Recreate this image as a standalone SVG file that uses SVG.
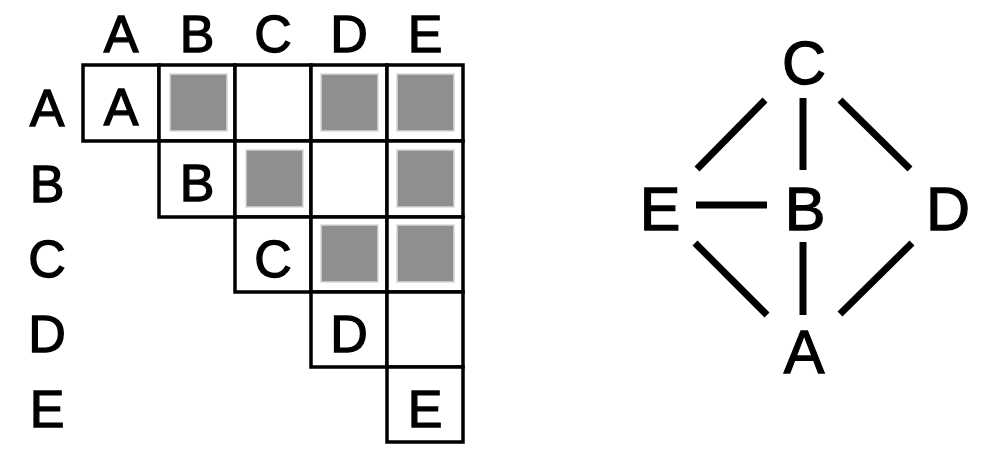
<svg xmlns="http://www.w3.org/2000/svg" width="985" height="449" viewBox="0 0 985 449">
<style>
.lbl{font-family:"Liberation Sans",Arial,sans-serif;font-size:52px;fill:#000;stroke:#000;stroke-width:1.3;text-anchor:middle}
.big{font-family:"Liberation Sans",Arial,sans-serif;font-size:61px;fill:#000;stroke:#000;stroke-width:1.3;text-anchor:middle}
.cell{fill:#fff;stroke:#000;stroke-width:3.5}
.fill{fill:#8f8f8f;stroke:#d8d8d8;stroke-width:1.5}
.edge{stroke:#000;stroke-width:7;fill:none}
</style>
<rect width="985" height="449" fill="#fff"/>
<g id="matrix">
<g id="col-headers">
<text class="lbl" x="121" y="52">A</text>
<text class="lbl" x="197" y="52">B</text>
<text class="lbl" x="273" y="52">C</text>
<text class="lbl" x="349" y="52">D</text>
<text class="lbl" x="425" y="52">E</text>
</g>
<g id="row-headers">
<text class="lbl" x="47" y="126">A</text>
<text class="lbl" x="47" y="202">B</text>
<text class="lbl" x="47" y="277">C</text>
<text class="lbl" x="47" y="352">D</text>
<text class="lbl" x="47" y="427">E</text>
</g>
<g id="cells">
<rect class="cell" x="83" y="65" width="76" height="76"/>
<rect class="cell" x="159" y="65" width="76" height="76"/>
<rect class="cell" x="235" y="65" width="76" height="76"/>
<rect class="cell" x="311" y="65" width="76" height="76"/>
<rect class="cell" x="387" y="65" width="76" height="76"/>
<rect class="cell" x="159" y="141" width="76" height="76"/>
<rect class="cell" x="235" y="141" width="76" height="76"/>
<rect class="cell" x="311" y="141" width="76" height="76"/>
<rect class="cell" x="387" y="141" width="76" height="76"/>
<rect class="cell" x="235" y="217" width="76" height="75"/>
<rect class="cell" x="311" y="217" width="76" height="75"/>
<rect class="cell" x="387" y="217" width="76" height="75"/>
<rect class="cell" x="311" y="292" width="76" height="75"/>
<rect class="cell" x="387" y="292" width="76" height="75"/>
<rect class="cell" x="387" y="367" width="76" height="75"/>
</g>
<g id="filled">
<rect class="fill" x="170" y="74" width="57" height="57"/>
<rect class="fill" x="321" y="74" width="57" height="57"/>
<rect class="fill" x="397" y="74" width="57" height="57"/>
<rect class="fill" x="246" y="150" width="57" height="57"/>
<rect class="fill" x="397" y="150" width="57" height="57"/>
<rect class="fill" x="321" y="225" width="57" height="57"/>
<rect class="fill" x="397" y="225" width="57" height="57"/>
</g>
<g id="diag-labels">
<text class="lbl" x="121" y="125">A</text>
<text class="lbl" x="197" y="201">B</text>
<text class="lbl" x="273" y="277">C</text>
<text class="lbl" x="349" y="352">D</text>
<text class="lbl" x="425" y="427">E</text>
</g>
</g>
<g id="connectors">
<line class="edge" x1="765" y1="100" x2="697" y2="169"/>
<line class="edge" x1="803" y1="98" x2="803" y2="170"/>
<line class="edge" x1="840" y1="100" x2="910" y2="169"/>
<line class="edge" x1="696" y1="205" x2="767" y2="205"/>
<line class="edge" x1="803" y1="242" x2="803" y2="315"/>
<line class="edge" x1="695" y1="243" x2="767" y2="315"/>
<line class="edge" x1="912" y1="243" x2="840" y2="314"/>
</g>
<g id="node-C"><text class="big" x="804" y="84">C</text></g>
<g id="node-E"><text class="big" x="660" y="230">E</text></g>
<g id="node-B"><text class="big" x="805" y="230">B</text></g>
<g id="node-D"><text class="big" x="948" y="230">D</text></g>
<g id="node-A"><text class="big" x="804" y="373">A</text></g>
</svg>
